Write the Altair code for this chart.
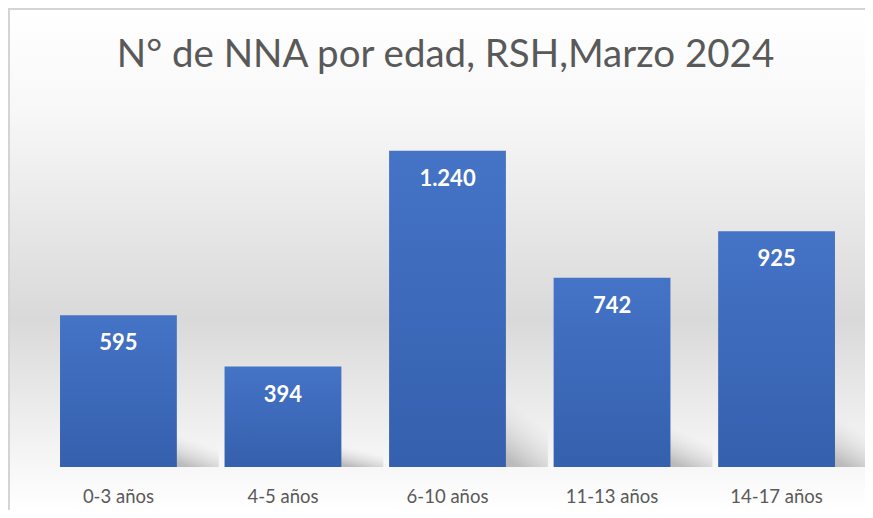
import altair as alt
import pandas as pd

categories = ["0-3 años", "4-5 años", "6-10 años", "11-13 años", "14-17 años"]
values = [595, 394, 1240, 742, 925]
labels = ["595", "394", "1.240", "742", "925"]
title_text = "N° de NNA por edad, RSH,Marzo 2024"

df = pd.DataFrame({"cat": categories, "val": values, "lab": labels})
title_df = pd.DataFrame({"t": [title_text]})

W, H = 823, 357
PL, PT, PR, PB = 28, 102, 6, 43

xenc = alt.X("cat:N", sort=categories,
             scale=alt.Scale(paddingInner=0.29, paddingOuter=0.146),
             axis=alt.Axis(title=None, domain=False, ticks=False, labelAngle=0,
                           labelFont="Lato", labelFontSize=18.5, labelColor="#595959",
                           labelPadding=20, grid=False, zindex=2))
yscale = alt.Scale(domain=[0, 1400])

bg_df = pd.DataFrame({"a": [0]})
background = alt.Chart(bg_df).mark_rect(
    fill=alt.Gradient(gradient="linear", x1=0, y1=0, x2=0, y2=1,
                      stops=[alt.GradientStop(offset=0, color="#ffffff"),
                             alt.GradientStop(offset=0.2, color="#f8f8f8"),
                             alt.GradientStop(offset=0.62, color="#d9d9d9"),
                             alt.GradientStop(offset=0.86, color="#f2f2f2"),
                             alt.GradientStop(offset=1, color="#ffffff")])
).encode(x=alt.value(-PL), x2=alt.value(W + PR), y=alt.value(-PT), y2=alt.value(H + PB))

border_top = alt.Chart(bg_df).mark_rule(color="#d4d4d4", strokeWidth=2).encode(
    x=alt.value(-PL), x2=alt.value(W + PR), y=alt.value(-PT + 1))
border_left = alt.Chart(bg_df).mark_rule(color="#d4d4d4", strokeWidth=2).encode(
    x=alt.value(-PL + 1), y=alt.value(-PT), y2=alt.value(H + PB))

title = alt.Chart(title_df).mark_text(
    font="Lato", fontSize=38.5, color="#595959", baseline="alphabetic", align="center"
).encode(x=alt.value(409.5), y=alt.value(-43), text="t:N")

shadow = alt.Chart(df).transform_calculate(sh="datum.val * 0.27").mark_bar(
    xOffset=42,
    fill=alt.Gradient(gradient="linear", x1=0, y1=1, x2=1, y2=0,
                      stops=[alt.GradientStop(offset=0, color="rgba(130,130,130,0.8)"),
                             alt.GradientStop(offset=0.38, color="rgba(150,150,150,0.6)"),
                             alt.GradientStop(offset=0.72, color="rgba(200,200,200,0)"),
                             alt.GradientStop(offset=1, color="rgba(220,220,220,0)")])
).encode(x=xenc, y=alt.Y("sh:Q", scale=yscale, axis=None))

bars = alt.Chart(df).mark_bar(
    fill=alt.Gradient(gradient="linear", x1=0, y1=0, x2=0, y2=1,
                      stops=[alt.GradientStop(offset=0, color="#4573c6"),
                             alt.GradientStop(offset=1, color="#3460ad")])
).encode(x=xenc, y=alt.Y("val:Q", scale=yscale, axis=None))

text = alt.Chart(df).mark_text(
    font="Lato", fontSize=22, fontWeight="bold", color="#ffffff",
    baseline="middle", dy=28
).encode(x=xenc, y=alt.Y("val:Q", scale=yscale, axis=None), text="lab:N")

chart = alt.layer(background, border_top, border_left, title, shadow, bars, text).properties(
    width=W, height=H,
    autosize=alt.AutoSizeParams(type="none"),
    padding={"left": PL, "top": PT, "right": PR, "bottom": PB},
).configure_view(strokeWidth=0).configure(background="#ffffff")

chart.save("out.html", embed_options={"renderer": "svg", "actions": False})
